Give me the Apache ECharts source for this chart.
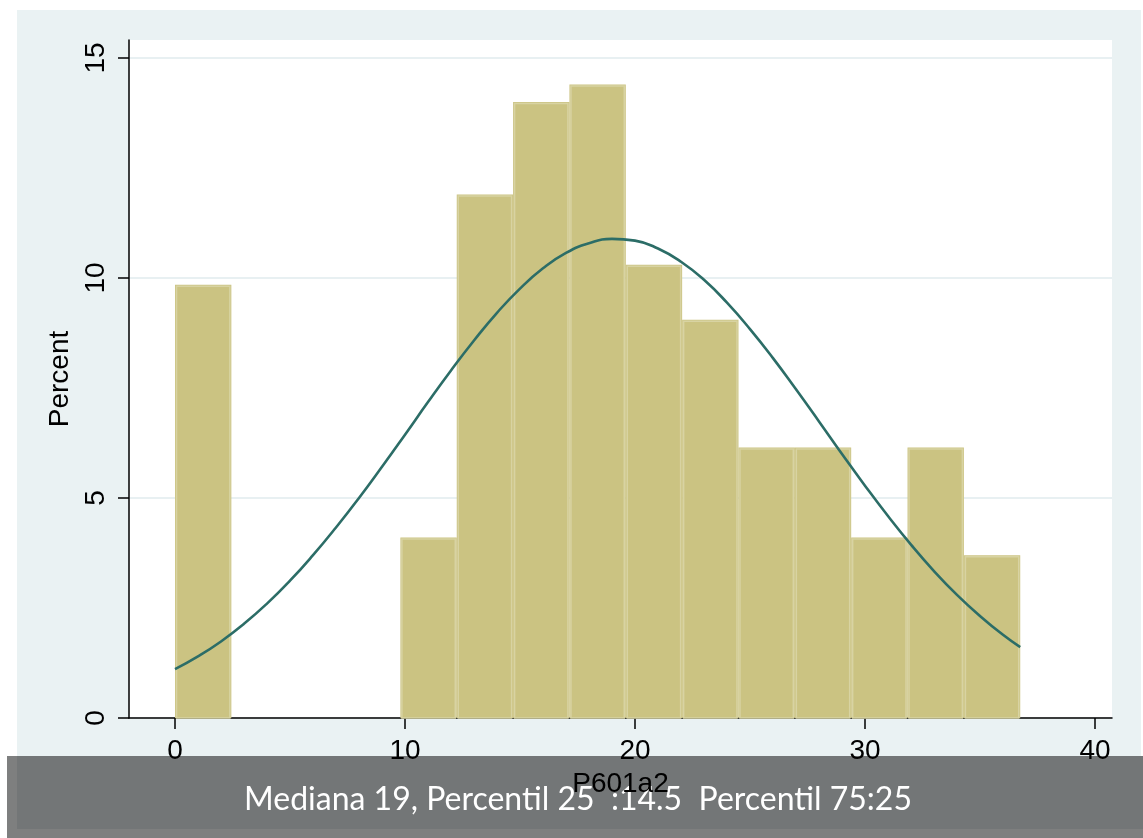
<!DOCTYPE html>
<html>
<head>
<meta charset="utf-8">
<script src="https://cdn.jsdelivr.net/npm/echarts@6/dist/echarts.min.js"></script>
<style>
  html, body { margin: 0; padding: 0; background: #ffffff; }
  #chart { width: 1143px; height: 838px; }
</style>
</head>
<body>
<div id="chart"></div>
<script>
// Histogram bins (P601a2), bin width
const binStarts = [0, 2.45, 4.9, 7.35, 9.8, 12.25, 14.7, 17.15, 19.6, 22.05, 24.5, 26.95, 29.4, 31.85, 34.3];
const binWidth = 2.45;
const percents = [9.85, 0, 0, 0, 4.1, 11.9, 14.0, 14.4, 10.3, 9.05, 6.15, 6.15, 4.1, 6.15, 3.7];

// Overlaid normal curve
const curveX = [0, 1, 2, 3, 4, 5, 6, 7, 8, 9, 10, 11, 12, 13, 14, 15, 16, 17, 18, 19,
                20, 21, 22, 23, 24, 25, 26, 27, 28, 29, 30, 31, 32, 33, 34, 35, 36, 36.75];
const curveY = [1.11, 1.40, 1.74, 2.14, 2.60, 3.12, 3.70, 4.33, 5.00, 5.71, 6.44, 7.18, 7.90, 8.58, 9.21, 9.76, 10.22, 10.57, 10.79, 10.89,
                10.85, 10.67, 10.37, 9.96, 9.44, 8.84, 8.18, 7.47, 6.74, 6.00, 5.28, 4.59, 3.94, 3.34, 2.80, 2.32, 1.89, 1.61];

// Axis ticks
const xTicks = [0, 10, 20, 30, 40];
const yTicks = [0, 5, 10, 15];

const xName = 'P601a2';
const yName = 'Percent';
const noteText = 'Mediana 19, Percentil 25  :14.5  Percentil 75:25';

const barData = binStarts.map((s, i) => [s, s + binWidth, percents[i]]);
const lineData = curveX.map((x, i) => [x, curveY[i]]);

const chart = echarts.init(document.getElementById('chart'), null, { renderer: 'canvas' });

const axisFont = { fontFamily: 'Liberation Sans', fontSize: 28, color: '#000' };

chart.setOption({
  animation: false,
  backgroundColor: '#ffffff',
  graphic: [
    { type: 'rect', z: -10, silent: true, shape: { x: 17, y: 10, width: 1124, height: 760 }, style: { fill: '#eaf2f3' } },
    { type: 'rect', z: -6, silent: true, shape: { x: 7, y: 756, width: 1136, height: 82 }, style: { fill: '#7e7f7f' } },
    { type: 'rect', z: -5, silent: true, shape: { x: 17, y: 756, width: 1126, height: 73 }, style: { fill: '#737677' } },
    { type: 'text', z: -4, silent: true, style: { text: noteText, x: 578, y: 800, fill: '#ffffff', font: '32px Lato', textAlign: 'center', textVerticalAlign: 'middle' } }
  ],
  grid: {
    left: 129, right: 31, top: 40, bottom: 120,
    show: true, backgroundColor: '#ffffff', borderWidth: 0
  },
  xAxis: {
    type: 'value',
    min: -2, max: 40.74,
    name: xName, nameLocation: 'middle', nameGap: 44,
    nameTextStyle: axisFont,
    axisLine: { show: true, onZero: false, lineStyle: { color: '#000', width: 1.5 } },
    axisTick: { show: true, length: 11, customValues: xTicks, lineStyle: { color: '#000', width: 1.5 } },
    axisLabel: { customValues: xTicks, margin: 19, ...axisFont },
    splitLine: { show: false }
  },
  yAxis: {
    type: 'value',
    min: 0, max: 15.41,
    name: yName, nameLocation: 'middle', nameGap: 44, nameRotate: 90,
    nameTextStyle: axisFont,
    axisLine: { show: true, onZero: false, lineStyle: { color: '#000', width: 1.5 } },
    axisTick: { show: true, length: 11, customValues: yTicks, lineStyle: { color: '#000', width: 1.5 } },
    axisLabel: { customValues: yTicks, rotate: 90, margin: 19, ...axisFont },
    splitLine: { show: true, lineStyle: { color: '#e8f0f2', width: 2 } }
  },
  series: [
    {
      type: 'custom',
      z: 2,
      data: barData,
      encode: { x: [0, 1], y: 2 },
      renderItem: function (params, api) {
        const p0 = api.coord([api.value(0), api.value(2)]);
        const p1 = api.coord([api.value(1), 0]);
        const x = p0[0], y = p0[1], w = p1[0] - p0[0], h = p1[1] - p0[1];
        if (h <= 0.5) return null;
        return {
          type: 'group',
          children: [
            { type: 'rect', shape: { x: x, y: y, width: w, height: h }, style: { fill: '#cbc382' } },
            { type: 'rect', shape: { x: x + 1.5, y: y + 1.5, width: w - 3, height: h - 1.5 }, style: { fill: 'none', stroke: '#d8d3a2', lineWidth: 1.5 } }
          ]
        };
      }
    },
    {
      type: 'line',
      z: 3,
      data: lineData,
      smooth: true,
      showSymbol: false,
      lineStyle: { color: '#2c6d67', width: 2.6 }
    }
  ]
});
</script>
</body>
</html>
